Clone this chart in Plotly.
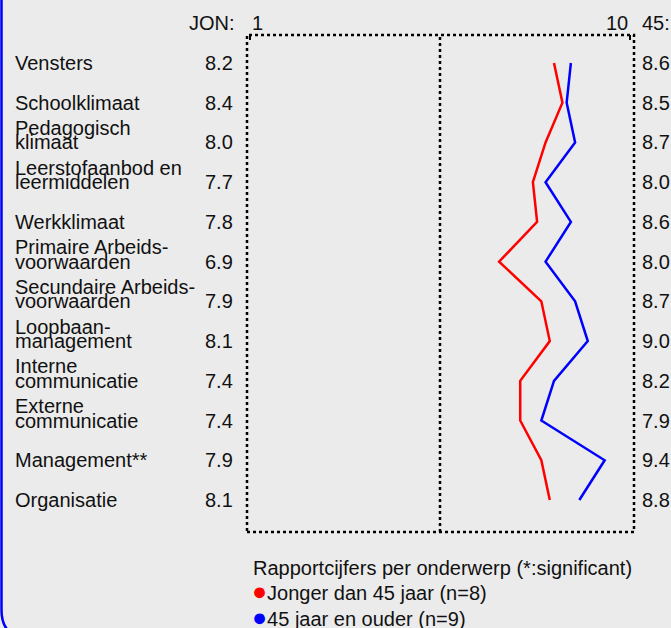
import plotly.graph_objects as go

W, H = 671, 628

categories = ["Vensters", "Schoolklimaat", "Pedagogisch<br>klimaat",
              "Leerstofaanbod en<br>leermiddelen", "Werkklimaat",
              "Primaire Arbeids-<br>voorwaarden", "Secundaire Arbeids-<br>voorwaarden",
              "Loopbaan-<br>management", "Interne<br>communicatie",
              "Externe<br>communicatie", "Management**", "Organisatie"]
jon_values = [8.2, 8.4, 8.0, 7.7, 7.8, 6.9, 7.9, 8.1, 7.4, 7.4, 7.9, 8.1]
old_values = [8.6, 8.5, 8.7, 8.0, 8.6, 8.0, 8.7, 9.0, 8.2, 7.9, 9.4, 8.8]
series_names = ["Jonger dan 45 jaar (n=8)", "45 jaar en ouder (n=9)"]
series_colors = ["#ff0000", "#0000ff"]
legend_title = "Rapportcijfers per onderwerp (*:significant)"
x_min_label, x_max_label = "1", "10"
left_head, right_head = "JON:", "45:"

FONT = "Arial, Liberation Sans, sans-serif"
FS = 20
BG = "#ebebeb"

def px(x):
    return x / W

def py(y):
    return 1 - y / H

# plot box in pixels
BL, BR, BT, BB = 247, 634, 35, 532
rows = list(range(len(categories)))

fig = go.Figure()
for vals, name, col in [(jon_values, series_names[0], series_colors[0]),
                        (old_values, series_names[1], series_colors[1])]:
    fig.add_trace(go.Scatter(x=vals, y=rows, mode="lines", name=name,
                             line=dict(color=col, width=2.5), showlegend=False,
                             hoverinfo="skip"))

ann = []
for i, cat in enumerate(categories):
    parts = cat.split("<br>")
    if len(parts) == 1:
        ann.append(dict(x=px(12.5), xref="paper", y=i, yref="y", text=parts[0],
                        xanchor="left", yanchor="middle", showarrow=False))
    else:
        ann.append(dict(x=px(12.5), xref="paper", y=i, yref="y", text=parts[0],
                        xanchor="left", yanchor="middle", yshift=14.5, showarrow=False))
        ann.append(dict(x=px(12.5), xref="paper", y=i, yref="y", text=parts[1],
                        xanchor="left", yanchor="middle", showarrow=False))
    ann.append(dict(x=px(235), xref="paper", y=i, yref="y", text=f"{jon_values[i]:.1f}",
                    xanchor="right", yanchor="middle", showarrow=False))
    ann.append(dict(x=px(640), xref="paper", y=i, yref="y", text=f"{old_values[i]:.1f}",
                    xanchor="left", yanchor="middle", showarrow=False))

# header
ann.append(dict(x=px(237), xref="paper", y=py(23), yref="paper", text=left_head,
                xanchor="right", yanchor="middle", showarrow=False))
ann.append(dict(x=1, xref="x", y=py(23), yref="paper", text=x_min_label,
                xanchor="left", yanchor="middle", showarrow=False))
ann.append(dict(x=10, xref="x", y=py(23), yref="paper", text=x_max_label,
                xanchor="right", yanchor="middle", showarrow=False))
ann.append(dict(x=px(640), xref="paper", y=py(23), yref="paper", text=right_head,
                xanchor="left", yanchor="middle", showarrow=False))

# legend
ann.append(dict(x=px(251), xref="paper", y=py(568), yref="paper", text=legend_title,
                xanchor="left", yanchor="middle", showarrow=False))
for k, (name, col) in enumerate(zip(series_names, series_colors)):
    ann.append(dict(x=px(250), xref="paper", y=py(591 + 26 * k), yref="paper",
                    text=f"<span style='color:{col};font-size:25px'>●</span>{name}",
                    xanchor="left", yanchor="middle", showarrow=False))

shapes = [
    dict(type="rect", xref="paper", yref="paper", x0=px(BL), x1=px(BR), y0=py(BB), y1=py(BT),
         line=dict(color="black", width=2.5, dash="dot")),
    dict(type="line", xref="x", yref="paper", x0=5.5, x1=5.5, y0=py(BB), y1=py(BT),
         line=dict(color="black", width=2.5, dash="dot")),
    dict(type="line", xref="x", yref="paper", x0=1, x1=1, y0=py(BT), y1=py(BT + 5),
         line=dict(color="black", width=2)),
    dict(type="line", xref="x", yref="paper", x0=10, x1=10, y0=py(BT), y1=py(BT + 5),
         line=dict(color="black", width=2)),
]
# blue rounded frame at left/bottom
x0 = 1.5
path = (f"M {px(x0)},{py(-5)} L {px(x0)},{py(610)} "
        f"Q {px(x0)},{py(638)} {px(x0 + 28)},{py(638)} L {px(700)},{py(638)}")
shapes.append(dict(type="path", xref="paper", yref="paper", path=path,
                   line=dict(color="#0000ff", width=2.5)))

# axis ranges so that 1 -> 250px, 10 -> 630px; rows 0 -> 63px, 11 -> 500px
ppu = (630 - 250) / 9
xr = [1 - (250 - BL) / ppu, 10 + (BR - 630) / ppu]
ppr = (500 - 63) / 11
yr = [11 + (BB - 500) / ppr, 0 - (63 - BT) / ppr]

fig.update_layout(
    width=W, height=H, autosize=False,
    margin=dict(l=0, r=0, t=0, b=0),
    paper_bgcolor=BG, plot_bgcolor=BG,
    font=dict(family=FONT, size=FS, color="#111111"),
    xaxis=dict(domain=[px(BL), px(BR)], range=xr, showgrid=False, zeroline=False,
               showticklabels=False, showline=False, fixedrange=True),
    yaxis=dict(domain=[py(BB), py(BT)], range=yr, showgrid=False, zeroline=False,
               showticklabels=False, showline=False, fixedrange=True),
    annotations=ann, shapes=shapes, showlegend=False,
)

fig.write_html("out.html", config={"displayModeBar": False},
               post_script="document.body.style.margin='0';document.body.style.overflow='hidden';document.body.style.background='#ebebeb';")
